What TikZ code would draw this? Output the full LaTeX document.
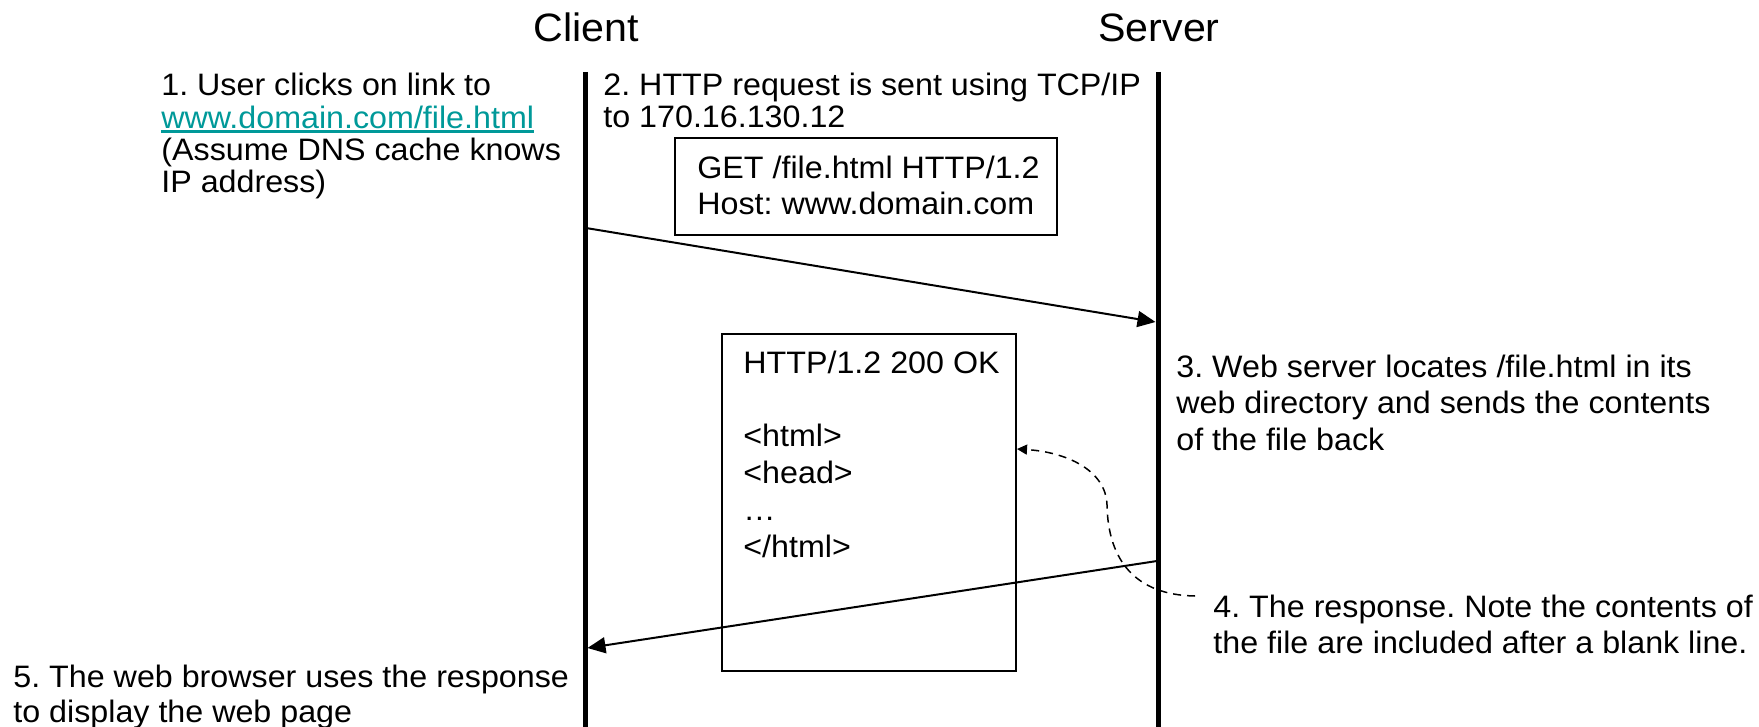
\documentclass[tikz,border=0pt]{standalone}
\usepackage{fontspec}
\setmainfont[FakeStretch=1.04]{Liberation Sans}
\usetikzlibrary{arrows.meta}
\definecolor{linkteal}{RGB}{0,153,153}
\newsavebox{\linkbox}
\newcommand{\linktext}[1]{\sbox{\linkbox}{#1}\rlap{\rule[-2.3pt]{\wd\linkbox}{1.1pt}}\usebox{\linkbox}}
\newcommand{\txtlines}[1]{\begin{tabular}[t]{@{}l@{}}#1\end{tabular}}
\frenchspacing

\begin{document}
\begin{tikzpicture}[x=0.5pt,y=-0.5pt,
  lbl/.style={anchor=base west, inner sep=0pt, font=\fontsize{15.5}{18.4}\selectfont},
  tightlbl/.style={lbl, font=\fontsize{15.5}{16}\selectfont},
  midlbl/.style={lbl, font=\fontsize{15.5}{17.5}\selectfont},
  ttl/.style={anchor=base, inner sep=0pt, font=\fontsize{19.8}{24}\selectfont},
  lifeline/.style={line width=2.5pt},
  msg/.style={line width=1pt, -{Triangle[length=9pt,width=8pt]}},
  pktbox/.style={draw, line width=1pt, inner sep=0pt, anchor=north west},
  notearrow/.style={line width=0.75pt, dash pattern=on 4pt off 3pt, -{Triangle[length=5pt,width=5pt]}}
]
\useasboundingbox (0,0) rectangle (1759,727);

% participants
\node[ttl] (client) at (586,42) {Client};
\node[ttl] (server) at (1159,42) {Server};

% lifelines
\coordinate (ctop) at (585,72);
\coordinate (cbot) at (585,727);
\coordinate (stop) at (1158,72);
\coordinate (sbot) at (1158,727);
\draw[lifeline] (ctop) -- (cbot);
\draw[lifeline] (stop) -- (sbot);

% step 1
\node[tightlbl] (step1) at (161,96) {\txtlines{1. User clicks on link to\\
  \textcolor{linkteal}{\linktext{www.domain.com/file.html}}\\
  (Assume DNS cache knows\\ IP address)}};

% step 2: request
\node[tightlbl] (step2) at (603,96) {\txtlines{2. HTTP request is sent using TCP/IP\\ to 170.16.130.12}};
\node[pktbox, minimum width=191pt, minimum height=48.5pt] (getbox) at (674,137) {};
\node[midlbl] (gettext) at (697,179) {\txtlines{GET /file.html HTTP/1.2\\ Host: www.domain.com}};
\coordinate (creq) at (586,228);
\coordinate (sreq) at (1155.5,322);
\draw[msg] (creq) -- (sreq);

% step 3
\node[lbl] (step3) at (1176,377) {\txtlines{3. Web server locates /file.html in its\\
  web directory and sends the contents\\ of the file back}};

% response
\node[pktbox, minimum width=147pt, minimum height=168.5pt] (respbox) at (721,333) {};
\node[lbl] (resptext) at (743,373) {\txtlines{HTTP/1.2 200 OK\\ \\ {<}html{>}\\ {<}head{>}\\ \dots\\ {<}/html{>}}};
\coordinate (sresp) at (1157,561);
\coordinate (cresp) at (587.5,648);
\draw[msg] (sresp) -- (cresp);

% step 4
\node[lbl] (step4) at (1213,617) {\txtlines{4. The response. Note the contents of\\
  the file are included after a blank line.}};
\coordinate (notestart) at (1195,596);
\coordinate (fileref) at (1017,449);
\draw[notearrow] (notestart) .. controls (1135,595) and (1108,560) .. (1107,505)
  .. controls (1106,470) and (1066,452) .. (fileref);

% step 5
\node[midlbl] (step5) at (13,687) {\txtlines{5. The web browser uses the response\\ to display the web page}};
\end{tikzpicture}
\end{document}
